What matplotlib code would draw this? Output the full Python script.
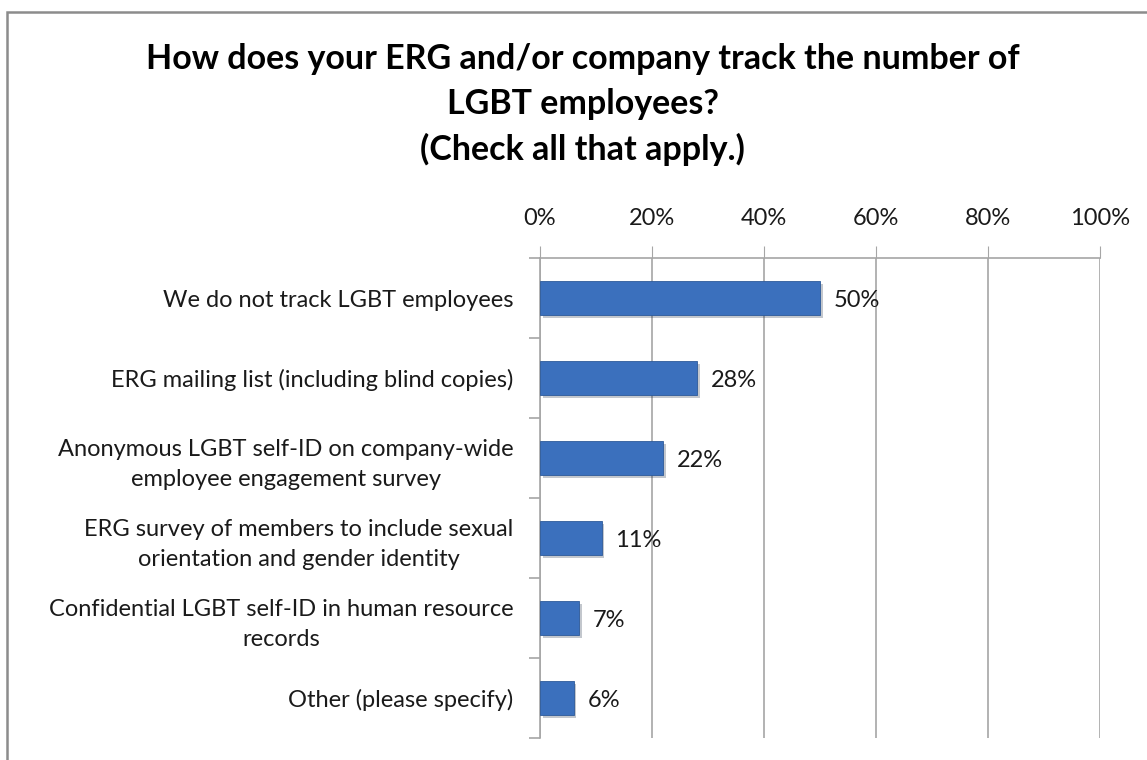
import matplotlib

matplotlib.use("Agg")
import matplotlib.pyplot as plt
import matplotlib.patheffects as pe
from matplotlib.patches import Rectangle

plt.rcParams["font.family"] = ["Lato", "DejaVu Sans"]

TITLE = ("How does your ERG and/or company track the number of\n"
         "LGBT employees?\n(Check all that apply.)")

categories = [
    "We do not track LGBT employees",
    "ERG mailing list (including blind copies)",
    "Anonymous LGBT self-ID on company-wide\nemployee engagement survey",
    "ERG survey of members to include sexual\norientation and gender identity",
    "Confidential LGBT self-ID in human resource\nrecords",
    "Other (please specify)",
]
shares = [50, 28, 22, 11, 7, 6]
xticks = [0, 20, 40, 60, 80, 100]

COLOR_BAR = "#3b70bd"
COLOR_EDGE = "#2d5a9a"
COLOR_GRID = "#a6a6a6"
COLOR_TEXT = "#1a1a1a"

fig = plt.figure(figsize=(11.47, 7.6), dpi=100)
fig.patch.set_facecolor("white")

# outer chart frame (runs off the right/bottom edge)
fig.patches.append(Rectangle((7 / 1147, -0.05), 1.2, 1.05 - 12 / 760,
                             transform=fig.transFigure, fill=False,
                             edgecolor="#8c8c8c", linewidth=1.8))

fig.text(0.508, 0.944, TITLE, ha="center", va="top", fontsize=24.5,
         fontweight="bold", color="black", linespacing=1.5)

ax = fig.add_axes([540 / 1147, 1 - 738 / 760, 560 / 1147, (738 - 258) / 760])
y = list(range(len(categories)))
bars = ax.barh(y, shares, height=0.42, color=COLOR_BAR, edgecolor=COLOR_EDGE,
               linewidth=0.6, zorder=3)
for b in bars:
    b.set_path_effects([pe.SimplePatchShadow(offset=(2, -2), alpha=0.25),
                        pe.Normal()])

for yi, v in zip(y, shares):
    ax.annotate(f"{v}%", (v, yi), textcoords="offset points", xytext=(10, -2),
                ha="left", va="center", fontsize=17, color=COLOR_TEXT, zorder=4)

ax.set_xlim(0, 100)
ax.set_ylim(len(categories) - 0.5, -0.5)

ax.xaxis.tick_top()
ax.set_xticks(xticks)
ax.set_xticklabels([f"{t}%" for t in xticks], fontsize=17, color=COLOR_TEXT)
ax.tick_params(axis="x", length=9, color=COLOR_GRID, pad=12)
ax.grid(axis="x", color=COLOR_GRID, linewidth=1.2, zorder=0)
ax.set_axisbelow(True)

ax.set_yticks(y)
ax.set_yticklabels(categories, fontsize=17, color=COLOR_TEXT,
                   multialignment="center")
for lbl in ax.get_yticklabels():
    lbl.set_linespacing(1.55)
ax.set_yticks([i - 0.5 for i in range(len(categories) + 1)], minor=True)
ax.tick_params(axis="y", which="major", length=0, pad=19)
ax.tick_params(axis="y", which="minor", length=8, color=COLOR_GRID, width=1.2)

for side in ("right", "bottom"):
    ax.spines[side].set_visible(False)
for side in ("top", "left"):
    ax.spines[side].set_color(COLOR_GRID)
    ax.spines[side].set_linewidth(1.2)

fig.savefig("out.png", dpi=100)
plt.close(fig)
